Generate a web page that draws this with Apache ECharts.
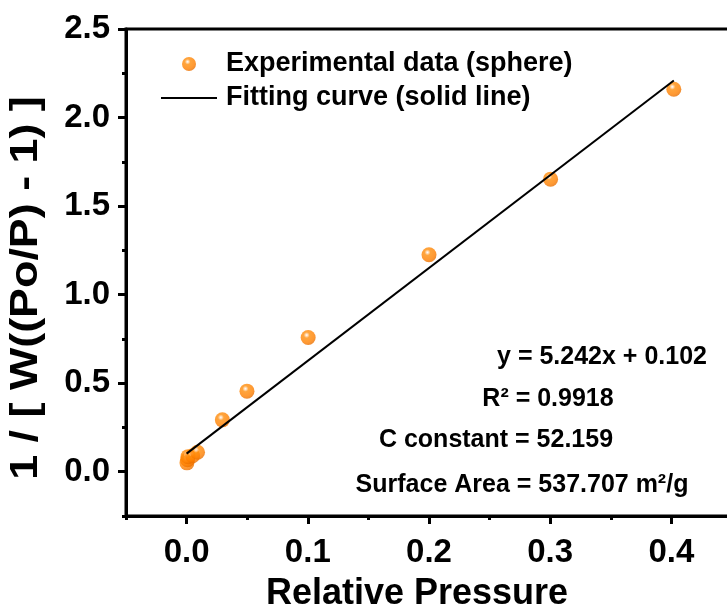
<!DOCTYPE html>
<html>
<head>
<meta charset="utf-8">
<script src="https://cdn.jsdelivr.net/npm/echarts@6/dist/echarts.min.js"></script>
<style>
html,body{margin:0;padding:0;background:#fff;}
#chart{width:727px;height:616px;}
</style>
</head>
<body>
<div id="chart"></div>
<script>
// ---- data ----
var expPressure = [0.0003, 0.0008, 0.0012, 0.005, 0.009, 0.0295, 0.0498, 0.1003, 0.2, 0.3003, 0.402];
var expValue    = [0.050, 0.068, 0.085, 0.090, 0.110, 0.293, 0.455, 0.758, 1.225, 1.652, 2.160];
var fitPressure = [0.0, 0.402];
var fitValue    = [0.102, 2.209];
var xMajorTicks = [0.0, 0.1, 0.2, 0.3, 0.4];
var xMinorTicks = [-0.05, 0.05, 0.15, 0.25, 0.35];
var yMajorTicks = [0.0, 0.5, 1.0, 1.5, 2.0, 2.5];
var yMinorTicks = [-0.25, 0.25, 0.75, 1.25, 1.75, 2.25];
var legendNames = ['Experimental data (sphere)', 'Fitting curve (solid line)'];
var annotations = ['y = 5.242x + 0.102', 'R\u00b2 = 0.9918', 'C constant = 52.159', 'Surface Area = 537.707 m\u00b2/g'];
var xTitle = 'Relative Pressure';
var yTitle = '1 / [ W((Po/P) - 1) ]';

var FONT = '"Liberation Sans", Arial, Helvetica, sans-serif';
var expData = expPressure.map(function (x, i) { return [x, expValue[i]]; });
var fitData = fitPressure.map(function (x, i) { return [x, fitValue[i]]; });

var sphere = {
  type: 'radial', x: 0.4, y: 0.34, r: 0.66,
  colorStops: [
    { offset: 0, color: '#ffffff' },
    { offset: 0.1, color: '#ffdcb8' },
    { offset: 0.3, color: '#ff8e0c' },
    { offset: 0.75, color: '#ff8000' },
    { offset: 1, color: '#ea7000' }
  ]
};

var chart = echarts.init(document.getElementById('chart'), null, { renderer: 'canvas' });
var axisLineStyle = { color: '#000', width: 3 };

var annotX = [602, 548, 496, 522];
var annotY = [357, 399, 440, 485];

var graphics = annotations.map(function (t, i) {
  return {
    type: 'text', x: annotX[i], y: annotY[i], z: 10,
    style: { text: t, fill: '#000', font: 'bold 25px ' + FONT, textAlign: 'center', textVerticalAlign: 'middle' }
  };
});
graphics.push({
  type: 'text', x: 27, y: 288, rotation: Math.PI / 2, scaleX: 1.18, scaleY: 1, z: 10,
  style: { text: yTitle, fill: '#000', font: 'bold 38px ' + FONT, textAlign: 'center', textVerticalAlign: 'middle' }
});

chart.setOption({
  animation: false,
  backgroundColor: '#fff',
  grid: { left: 126, top: 29, right: -5, bottom: 100, show: true, borderColor: '#000', borderWidth: 3,
    containLabel: false, outerBoundsMode: 'none' },
  legend: {
    orient: 'vertical', left: 156, top: 44, itemWidth: 56, itemHeight: 14, itemGap: 4,
    textStyle: { fontFamily: FONT, fontWeight: 'bold', fontSize: 27, color: '#000', lineHeight: 30, padding: [0, 0, 0, 4] },
    data: [
      { name: legendNames[0] },
      { name: legendNames[1], icon: 'path://M0,0 L56,0 L56,2 L0,2 Z' }
    ]
  },
  xAxis: [{
    type: 'value', min: -0.05, max: 0.45, interval: 0.05,
    name: xTitle, nameLocation: 'middle', nameGap: 60,
    nameTextStyle: { fontFamily: FONT, fontWeight: 'bold', fontSize: 36, color: '#000', padding: [0, 24, 0, 0] },
    axisLine: { show: true, onZero: false, lineStyle: axisLineStyle },
    axisTick: { show: true, inside: false, length: 8, lineStyle: { color: '#000', width: 3 }, customValues: xMajorTicks },
    axisLabel: { fontFamily: FONT, fontWeight: 'bold', fontSize: 33, color: '#000', margin: 20,
      customValues: xMajorTicks, formatter: function (v) { return v.toFixed(1); } },
    splitLine: { show: false }
  }, {
    type: 'value', min: -0.05, max: 0.45, interval: 0.05, position: 'bottom',
    axisLine: { show: false, onZero: false },
    axisTick: { show: true, length: 4, lineStyle: { color: '#000', width: 3 }, customValues: xMinorTicks },
    axisLabel: { show: false }, splitLine: { show: false }
  }],
  yAxis: [{
    type: 'value', min: -0.25, max: 2.5, interval: 0.25,
    axisLine: { show: true, onZero: false, lineStyle: axisLineStyle },
    axisTick: { show: true, inside: false, length: 8, lineStyle: { color: '#000', width: 3 }, customValues: yMajorTicks },
    axisLabel: { fontFamily: FONT, fontWeight: 'bold', fontSize: 33, color: '#000', margin: 16,
      customValues: yMajorTicks, formatter: function (v) { return v.toFixed(1); } },
    splitLine: { show: false }
  }, {
    type: 'value', min: -0.25, max: 2.5, interval: 0.25, position: 'left',
    axisLine: { show: false, onZero: false },
    axisTick: { show: true, length: 4, lineStyle: { color: '#000', width: 3 }, customValues: yMinorTicks },
    axisLabel: { show: false }, splitLine: { show: false }
  }],
  series: [{
    name: legendNames[0], type: 'scatter', data: expData, symbol: 'circle', symbolSize: 15,
    itemStyle: { color: sphere }, z: 3
  }, {
    name: legendNames[1], type: 'line', data: fitData, symbol: 'none', showSymbol: false,
    lineStyle: { color: '#000', width: 2 }, itemStyle: { color: '#000' }, z: 4
  }],
  graphic: graphics
});
</script>
</body>
</html>
